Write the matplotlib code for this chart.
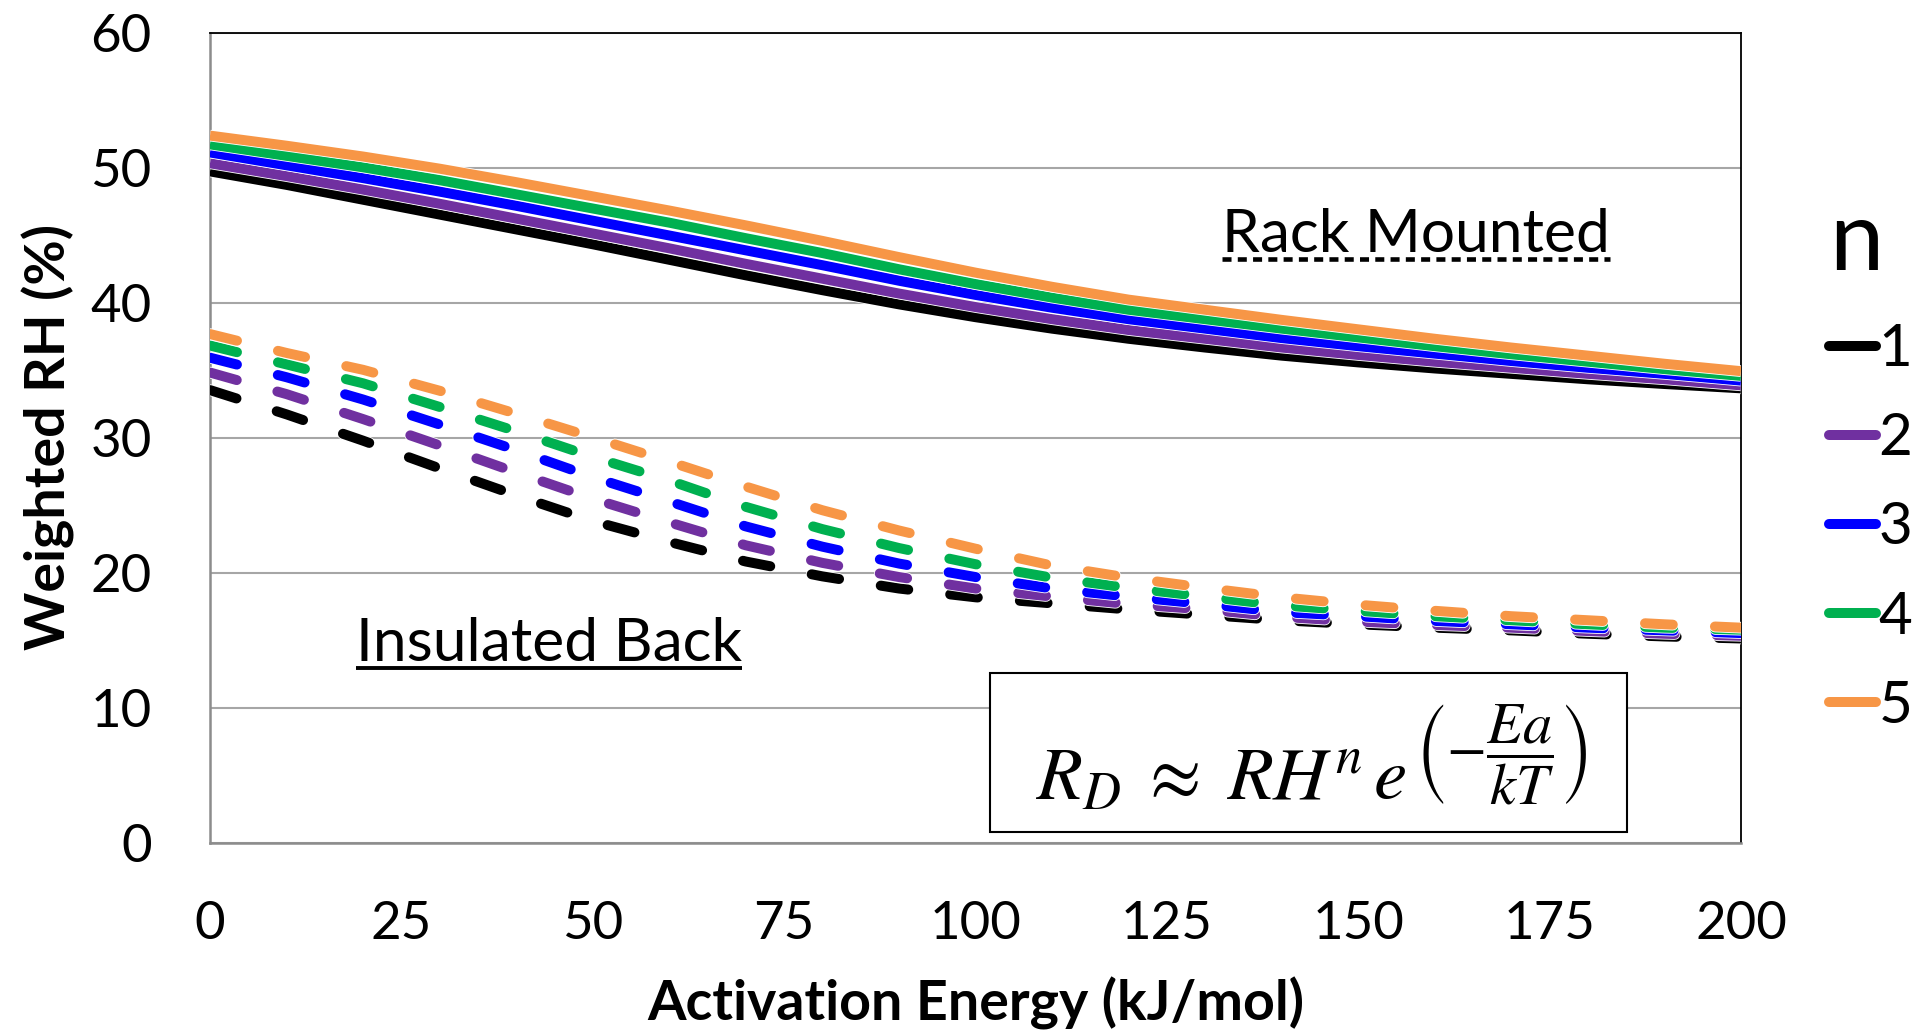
import matplotlib
matplotlib.use("Agg")
import matplotlib.pyplot as plt
import matplotlib.patheffects as pe
from matplotlib.lines import Line2D
from matplotlib.patches import Rectangle

# ---------------- data ----------------
energy = [0, 10, 20, 30, 40, 50, 60, 70, 80, 90, 100,
          110, 120, 130, 140, 150, 160, 170, 180, 190, 200]

n_labels = ["1", "2", "3", "4", "5"]
colors = ["#000000", "#7030A0", "#0000FF", "#00B050", "#F79646"]

# Rack mounted (solid)
rack_n1 = [49.75, 48.75, 47.65, 46.55, 45.45, 44.35, 43.2, 42.05, 40.95, 39.9, 38.95,
           38.1, 37.35, 36.7, 36.1, 35.6, 35.15, 34.75, 34.35, 34.0, 33.68]
rack_n2 = [50.35, 49.4, 48.4, 47.35, 46.25, 45.15, 44.05, 42.9, 41.8, 40.7, 39.7,
           38.8, 38.0, 37.35, 36.7, 36.15, 35.65, 35.2, 34.75, 34.35, 33.9]
rack_n3 = [51.15, 50.2, 49.25, 48.25, 47.2, 46.1, 45.0, 43.9, 42.8, 41.65, 40.6,
           39.65, 38.8, 38.1, 37.4, 36.8, 36.25, 35.7, 35.2, 34.75, 34.25]
rack_n4 = [51.75, 50.9, 50.05, 49.1, 48.05, 47.0, 45.95, 44.8, 43.7, 42.5, 41.4,
           40.4, 39.5, 38.8, 38.1, 37.45, 36.8, 36.2, 35.65, 35.1, 34.6]
rack_n5 = [52.4, 51.65, 50.85, 49.95, 48.95, 47.9, 46.85, 45.75, 44.6, 43.4, 42.25,
           41.2, 40.25, 39.5, 38.75, 38.05, 37.35, 36.7, 36.1, 35.5, 34.95]

# Insulated back (dashed)
ins_n1 = [33.55, 31.75, 29.8, 27.75, 25.75, 23.85, 22.3, 20.85, 19.75, 18.85, 18.2,
          17.75, 17.3, 16.9, 16.5, 16.2, 15.95, 15.75, 15.5, 15.3, 15.15]
ins_n2 = [34.85, 33.25, 31.4, 29.45, 27.45, 25.5, 23.75, 22.05, 20.75, 19.7, 18.85,
          18.25, 17.7, 17.3, 16.75, 16.4, 16.15, 15.95, 15.7, 15.5, 15.35]
ins_n3 = [35.95, 34.5, 32.85, 31.0, 29.1, 27.1, 25.3, 23.45, 21.95, 20.7, 19.7,
          18.85, 18.25, 17.7, 17.1, 16.8, 16.45, 16.2, 15.95, 15.75, 15.55]
ins_n4 = [36.85, 35.45, 34.05, 32.3, 30.5, 28.6, 26.85, 24.9, 23.25, 21.85, 20.65,
          19.65, 18.9, 18.25, 17.6, 17.2, 16.8, 16.5, 16.2, 15.95, 15.8]
ins_n5 = [37.7, 36.3, 35.05, 33.5, 31.8, 30.05, 28.25, 26.4, 24.65, 23.15, 21.8,
          20.55, 19.65, 18.9, 18.2, 17.65, 17.2, 16.8, 16.5, 16.2, 15.95]

rack = [rack_n1, rack_n2, rack_n3, rack_n4, rack_n5]
ins = [ins_n1, ins_n2, ins_n3, ins_n4, ins_n5]

x_ticks = [0, 25, 50, 75, 100, 125, 150, 175, 200]
y_ticks = [0, 10, 20, 30, 40, 50, 60]

# ---------------- style ----------------
plt.rcParams["font.family"] = ["Lato", "DejaVu Sans"]
plt.rcParams["mathtext.fontset"] = "stix"
plt.rcParams["lines.scale_dashes"] = False

W, H = 1915, 1033
fig = plt.figure(figsize=(W / 100, H / 100), dpi=100)
ax = fig.add_axes([210 / W, 1 - 843 / H, (1741 - 210) / W, (843 - 33) / H])

LW = 7.2
halo = [pe.Stroke(linewidth=LW + 1.2, foreground="white"), pe.Normal()]

handles = []
for i in range(5):
    h, = ax.plot(energy, rack[i], color=colors[i], lw=LW, solid_capstyle="butt",
                 path_effects=halo, zorder=3 + i * 0.1, label=n_labels[i])
    handles.append(h)
for i in range(5):
    ax.plot(energy, ins[i], color=colors[i], lw=LW, dashes=(20.0, 30.4),
            dash_capstyle="round", path_effects=halo, zorder=3 + i * 0.1)

ax.set_xlim(0, 200)
ax.set_ylim(0, 60)
ax.set_xticks(x_ticks)
ax.set_yticks(y_ticks)
ax.tick_params(length=0, pad=42, labelsize=38, colors="black")
ax.grid(axis="y", color="#a6a6a6", lw=1.5, zorder=0)
ax.set_axisbelow(True)
for s in ["top", "right"]:
    ax.spines[s].set_color("black")
    ax.spines[s].set_linewidth(1.3)
for s in ["left", "bottom"]:
    ax.spines[s].set_color("#8c8c8c")
    ax.spines[s].set_linewidth(1.8)

# axis labels
fig.text(975.5 / W, 1 - 1021 / H, "Activation Energy (kJ/mol)", ha="center",
         va="baseline", fontsize=40, fontweight="bold")
fig.text(48 / W, 1 - 437.5 / H, "Weighted RH (%)", ha="center", va="center",
         rotation=90, fontsize=40, fontweight="bold")

# annotations
t_rack = ax.text(1416 / W, 1 - 252 / H, "Rack Mounted", transform=fig.transFigure,
                 ha="center", va="baseline", fontsize=43.5, zorder=6)
t_ins = ax.text(549 / W, 1 - 661 / H, "Insulated Back", transform=fig.transFigure,
                ha="center", va="baseline", fontsize=43.5, zorder=6)

# equation box
fig.add_artist(Rectangle((990 / W, 1 - 832 / H), (1627 - 990) / W, (832 - 673) / H,
                         transform=fig.transFigure, facecolor="white",
                         edgecolor="black", lw=1.5, zorder=5))
eq_main = fig.text(1036 / W, 1 - 800 / H, r"$R_D\;\approx\;RH^{n}\,e$",
                   ha="left", va="baseline", fontsize=54, zorder=6)

fig.canvas.draw()
r = fig.canvas.get_renderer()
bb = t_rack.get_window_extent(r)
fig.add_artist(Line2D([bb.x0, bb.x1], [H - 259, H - 259], transform=None,
                      color="black", lw=3.3, dashes=(6.5, 4.5), solid_capstyle="butt",
                      dash_capstyle="butt"))
bb = t_ins.get_window_extent(r)
fig.add_artist(Line2D([bb.x0, bb.x1], [H - 668, H - 668], transform=None,
                      color="black", lw=2.8, solid_capstyle="butt"))
bb = eq_main.get_window_extent(r)
fig.text((bb.x1 + 8) / W, 1 - 755 / H, r"$\left(-\dfrac{Ea}{kT}\right)$",
         ha="left", va="center", fontsize=42, zorder=6)

# legend
leg = ax.legend(handles=handles, labels=n_labels, title="n", loc="upper left",
                bbox_to_anchor=(1829 / W, 1 - 199 / H), bbox_transform=fig.transFigure,
                frameon=False, fontsize=42, title_fontsize=70, handlelength=0.8,
                handletextpad=0.05, labelspacing=0.62, borderaxespad=0, borderpad=0,
                alignment="left")
for lh in leg.get_lines():
    lh.set_solid_capstyle("round")
    lh.set_path_effects([])

fig.savefig("out.png", dpi=100)
